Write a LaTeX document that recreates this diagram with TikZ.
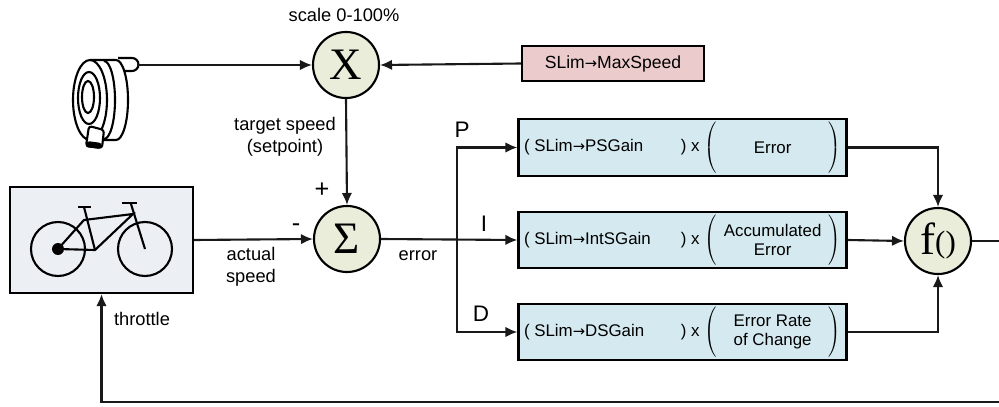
\documentclass[tikz,border=0pt]{standalone}
\usepackage{fontspec}
\setmainfont{Liberation Sans}
\newfontfamily\symfont{Liberation Serif}
\newfontfamily\arrowfont{DejaVu Sans}
\usetikzlibrary{positioning, arrows.meta, calc}

\definecolor{circfill}{HTML}{E9EDDA}
\definecolor{gainfill}{HTML}{D5EAF0}
\definecolor{limfill}{HTML}{EBCBCB}
\definecolor{plantfill}{HTML}{ECEFF4}

% flecha corta dentro de los nombres de parametros
\newcommand{\slim}{SLim{\arrowfont\fontsize{10.5}{10}\selectfont→}}

% term inside a gain block: ( SLim->gain ) x ( signal )
\newcommand{\gainterm}[2]{%
    \makebox[3.92cm][l]{( \slim#1}) x\ 
    $\left(\parbox[c][1.25cm][c]{2.8cm}{\centering #2}\right)$}

\begin{document}
\begin{tikzpicture}[
    x=0.025cm, y=-0.025cm,
    % ====================
    % ESTILOS
    % ====================
    opcirc/.style={
        circle, draw=black, line width=1.5pt, fill=circfill,
        minimum size=1.65cm, inner sep=0pt,
        font=\symfont\fontsize{32}{32}\selectfont
    },
    gainbox/.style={
        rectangle, draw=black, line width=1.5pt, fill=gainfill,
        minimum width=8.2cm, minimum height=1.42cm,
        inner sep=0pt, font=\fontsize{12}{13}\selectfont
    },
    limbox/.style={
        rectangle, draw=black, line width=1.5pt, fill=limfill,
        minimum width=4.55cm, minimum height=0.87cm,
        font=\fontsize{12.5}{14}\selectfont
    },
    plant/.style={
        rectangle, draw=black, line width=1.5pt, fill=plantfill,
        minimum width=4.57cm, minimum height=2.65cm
    },
    line/.style={
        line width=1.5pt, draw=black!90, -{Latex[length=8.5pt, width=7.5pt]}
    },
    icon/.style={line width=1.5pt, draw=black},
    label_style/.style={font=\fontsize{13}{16}\selectfont, align=center},
    sign_style/.style={font=\fontsize{18}{18}\selectfont},
    branch_style/.style={font=\fontsize{16}{16}\selectfont}
]

\useasboundingbox (0,0) rectangle (999,407);

% ====================
% NODOS
% ====================

% Operadores
\node[opcirc] (mult) at (346,65) {X};
\node[opcirc] (sum) at (347,239) {Σ};
\node[opcirc] (func) at (938,241) {f\raisebox{2pt}{\fontsize{22}{22}\selectfont()}};

% Limite de velocidad
\node[limbox] (maxspeed) at (613,63.5) {\slim MaxSpeed};

% Bloques P, I, D
\node[gainbox] (pbox) at (682.5,147.5) {\gainterm{PSGain}{Error}};
\node[gainbox] (ibox) at (682.5,240) {\gainterm{IntSGain}{Accumulated\\Error}};
\node[gainbox] (dbox) at (682.5,332) {\gainterm{DSGain}{Error Rate\\of Change}};

% Bicicleta (planta)
\node[plant] (bike) at (101.5,240) {};

% Puntos auxiliares
\coordinate (grip) at (137,65);
\coordinate (split) at (457,239);
\coordinate (loop) at (1040,402);

% ====================
% ICONOS
% ====================

% Bicicleta
\draw[icon] (58,249) circle (27);
\draw[icon] (145,249) circle (27);
\fill (58,249) circle (6);
\draw[icon] (58,249) -- (95,250) -- (133,214) -- (84,220) -- (58,249);
\draw[icon] (95,250) -- (84,207);
\draw[icon] (78,207) -- (91,207);
\draw[icon] (145,249) -- (131,204);
\draw[icon] (122,203) -- (137,203);

% Puño de acelerador
\draw[icon, fill=white] (118,58) -- (132,58) arc (-90:90:6.5) -- (118,71);
\draw[icon, fill=white] (90,60) -- (116,60) arc (-90:90:12 and 40) -- (90,140);
\draw[icon] (104,61) arc (-90:90:11 and 39);
\draw[icon, fill=white] (90,100) ellipse (17 and 40);
\draw[icon] (89,98) ellipse (11 and 26);
\draw[icon] (88,97) ellipse (6 and 16);
\draw[icon, fill=white, rounded corners=2] (89,126) -- (104,130) -- (102,148) -- (86,146) -- cycle;
\fill[rounded corners=2] (87,141) -- (102,143) -- (101,149) -- (85,147) -- cycle;

% ====================
% ETIQUETAS
% ====================
\node[label_style] at (344,15) {scale 0-100\%};
\node[label_style] at (285,137) {target speed\\(setpoint)};
\node[label_style] at (251,267) {actual\\speed};
\node[label_style] at (418,256) {error};
\node[label_style] at (142,319) {throttle};
\node[sign_style] at (322,190) {+};
\node[sign_style] at (296,228) {-};
\node[branch_style] at (462,130) {P};
\node[branch_style] at (484,224) {I};
\node[branch_style] at (481,314) {D};

% ====================
% FLUJOS
% ====================

% Consigna de velocidad
\draw[line] (grip) -- (mult.west);
\draw[line] (maxspeed.west) -- (mult.east);
\draw[line] (mult.south) -- (sum.north);

% Error hacia P, I, D
\draw[line] (bike.east) -- (sum.west);
\draw[line] (sum.east) -- (ibox.west);
\draw[line] (split) |- (pbox.west);
\draw[line] (split) |- (dbox.west);

% Salidas hacia f()
\draw[line] (pbox.east) -| (func.north);
\draw[line] (ibox.east) -- (func.west);
\draw[line] (dbox.east) -| (func.south);

% Realimentacion (acelerador)
\draw[line] (func.east) -| (loop) -| (bike.south);

\end{tikzpicture}
\end{document}
